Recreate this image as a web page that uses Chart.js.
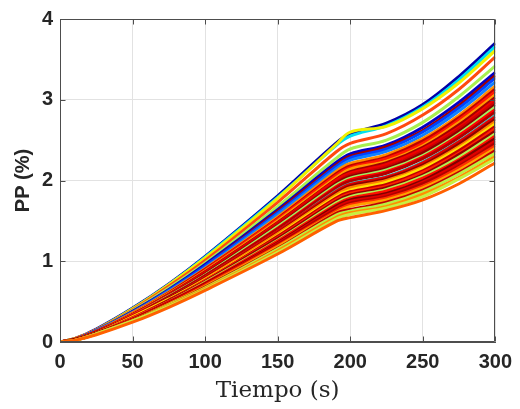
<!DOCTYPE html>
<html><head><meta charset="utf-8">
<script src="https://cdn.jsdelivr.net/npm/chart.js@4.4.0/dist/chart.umd.min.js"></script>
<style>html,body{margin:0;padding:0;background:#fff;}</style>
</head><body>
<canvas id="c" width="520" height="409"></canvas>
<script>
// Time samples (s)
const times = [0, 10, 25, 50, 75, 100, 150, 190, 200, 225, 250, 275, 300];
const xTicks = [0, 50, 100, 150, 200, 250, 300];
const yTicks = [0, 1, 2, 3, 4];

// PP (%) curves (top to bottom at t = 300 s)
const run01 = [0, 0.04, 0.16, 0.42, 0.72, 1.06, 1.81, 2.46, 2.58, 2.71, 2.94, 3.29, 3.70];
const run02 = [0, 0.04, 0.15, 0.41, 0.71, 1.05, 1.79, 2.43, 2.55, 2.68, 2.91, 3.25, 3.66];
const run03 = [0, 0.04, 0.15, 0.41, 0.71, 1.04, 1.78, 2.44, 2.60, 2.67, 2.89, 3.21, 3.61];
const run04 = [0, 0.04, 0.15, 0.40, 0.69, 1.01, 1.73, 2.35, 2.46, 2.58, 2.81, 3.13, 3.53];
const run05 = [0, 0.03, 0.14, 0.39, 0.67, 0.98, 1.68, 2.27, 2.39, 2.50, 2.72, 3.04, 3.42];
const run06 = [0, 0.03, 0.14, 0.38, 0.65, 0.96, 1.64, 2.22, 2.33, 2.44, 2.66, 2.97, 3.34];
const run07 = [0, 0.03, 0.14, 0.37, 0.64, 0.94, 1.62, 2.19, 2.30, 2.42, 2.62, 2.93, 3.30];
const run08 = [0, 0.03, 0.14, 0.37, 0.64, 0.94, 1.60, 2.17, 2.28, 2.39, 2.60, 2.90, 3.27];
const run09 = [0, 0.03, 0.14, 0.36, 0.63, 0.92, 1.58, 2.14, 2.25, 2.36, 2.56, 2.86, 3.22];
const run10 = [0, 0.03, 0.13, 0.36, 0.62, 0.91, 1.55, 2.11, 2.21, 2.32, 2.52, 2.81, 3.17];
const run11 = [0, 0.03, 0.13, 0.35, 0.61, 0.90, 1.53, 2.08, 2.18, 2.29, 2.49, 2.78, 3.13];
const run12 = [0, 0.03, 0.13, 0.35, 0.60, 0.89, 1.52, 2.06, 2.16, 2.27, 2.46, 2.75, 3.10];
const run13 = [0, 0.03, 0.13, 0.35, 0.60, 0.88, 1.50, 2.03, 2.14, 2.24, 2.43, 2.72, 3.06];
const run14 = [0, 0.03, 0.13, 0.34, 0.59, 0.87, 1.48, 2.01, 2.11, 2.22, 2.41, 2.69, 3.03];
const run15 = [0, 0.03, 0.13, 0.34, 0.585, 0.86, 1.47, 2.00, 2.09, 2.20, 2.39, 2.66, 3.00];
const run16 = [0, 0.03, 0.12, 0.34, 0.58, 0.85, 1.46, 1.97, 2.07, 2.17, 2.36, 2.64, 2.97];
const run17 = [0, 0.03, 0.12, 0.33, 0.57, 0.84, 1.44, 1.96, 2.05, 2.15, 2.34, 2.61, 2.94];
const run18 = [0, 0.03, 0.12, 0.33, 0.57, 0.83, 1.43, 1.94, 2.03, 2.13, 2.31, 2.58, 2.91];
const run19 = [0, 0.03, 0.12, 0.33, 0.56, 0.82, 1.41, 1.92, 2.01, 2.11, 2.29, 2.56, 2.88];
const run20 = [0, 0.03, 0.12, 0.32, 0.56, 0.82, 1.40, 1.90, 1.99, 2.09, 2.27, 2.53, 2.85];
const run21 = [0, 0.03, 0.12, 0.32, 0.55, 0.81, 1.38, 1.88, 1.97, 2.06, 2.24, 2.50, 2.82];
const run22 = [0, 0.03, 0.12, 0.32, 0.54, 0.80, 1.37, 1.86, 1.95, 2.04, 2.22, 2.48, 2.79];
const run23 = [0, 0.03, 0.12, 0.31, 0.54, 0.79, 1.35, 1.84, 1.93, 2.02, 2.19, 2.45, 2.76];
const run24 = [0, 0.03, 0.11, 0.31, 0.53, 0.78, 1.34, 1.82, 1.91, 2.00, 2.17, 2.42, 2.73];
const run25 = [0, 0.03, 0.11, 0.31, 0.53, 0.77, 1.32, 1.80, 1.88, 1.98, 2.15, 2.40, 2.70];
const run26 = [0, 0.03, 0.11, 0.30, 0.52, 0.76, 1.31, 1.78, 1.86, 1.95, 2.12, 2.37, 2.67];
const run27 = [0, 0.03, 0.11, 0.30, 0.51, 0.76, 1.29, 1.76, 1.84, 1.93, 2.10, 2.34, 2.64];
const run28 = [0, 0.03, 0.11, 0.29, 0.51, 0.75, 1.28, 1.74, 1.82, 1.91, 2.07, 2.32, 2.61];
const run29 = [0, 0.03, 0.11, 0.29, 0.50, 0.74, 1.26, 1.72, 1.80, 1.89, 2.05, 2.29, 2.58];
const run30 = [0, 0.03, 0.11, 0.29, 0.50, 0.73, 1.25, 1.70, 1.78, 1.87, 2.03, 2.26, 2.55];
const run31 = [0, 0.03, 0.11, 0.28, 0.49, 0.72, 1.23, 1.68, 1.76, 1.84, 2.00, 2.24, 2.52];
const run32 = [0, 0.02, 0.10, 0.28, 0.49, 0.71, 1.22, 1.66, 1.74, 1.82, 1.98, 2.21, 2.49];
const run33 = [0, 0.02, 0.10, 0.28, 0.48, 0.70, 1.21, 1.64, 1.72, 1.80, 1.96, 2.18, 2.46];
const run34 = [0, 0.02, 0.10, 0.27, 0.47, 0.70, 1.19, 1.62, 1.70, 1.78, 1.93, 2.16, 2.43];
const run35 = [0, 0.02, 0.10, 0.27, 0.47, 0.69, 1.18, 1.60, 1.68, 1.76, 1.91, 2.13, 2.40];
const run36 = [0, 0.02, 0.10, 0.27, 0.46, 0.68, 1.16, 1.59, 1.64, 1.73, 1.88, 2.10, 2.37];
const run37 = [0, 0.02, 0.10, 0.26, 0.46, 0.67, 1.15, 1.57, 1.62, 1.71, 1.86, 2.08, 2.34];
const run38 = [0, 0.02, 0.10, 0.26, 0.45, 0.66, 1.13, 1.54, 1.60, 1.68, 1.83, 2.04, 2.30];
const run39 = [0, 0.02, 0.10, 0.26, 0.44, 0.65, 1.11, 1.52, 1.58, 1.66, 1.80, 2.02, 2.27];
const run40 = [0, 0.02, 0.09, 0.245, 0.43, 0.64, 1.09, 1.49, 1.54, 1.63, 1.76, 1.96, 2.22];

const runs = [run01, run02, run03, run04, run05, run06, run07, run08, run09, run10,
              run11, run12, run13, run14, run15, run16, run17, run18, run19, run20,
              run21, run22, run23, run24, run25, run26, run27, run28, run29, run30,
              run31, run32, run33, run34, run35, run36, run37, run38, run39, run40];

const runColors = [
  '#0000a8', '#00e0f0', '#f0f000', '#ff4a10', '#a8f050', '#0000c8', '#a00000', '#0040ff', '#1080ff', '#ff8c00',
  '#c00000', '#ff1a00', '#ff9a00', '#a00000', '#f00000', '#d00000', '#8c0000', '#a0f060', '#ff0000', '#b00000',
  '#40b0b0', '#e00000', '#900000', '#ff8000', '#ffe000', '#c00000', '#ff2000', '#900000', '#b0f050', '#ff1000',
  '#800000', '#e00000', '#b00000', '#ff3000', '#ffa000', '#c00000', '#b8f040', '#ff9000', '#c8f040', '#ff6000'
];
const thinColors = ['#40b0b0'];

// reversed so that the upper runs are drawn last in z-order like the original
const datasets = runs.map((r, i) => ({
  data: times.map((t, j) => ({x: t, y: r[j]})),
  borderColor: runColors[i],
  borderWidth: thinColors.includes(runColors[i]) ? 1.5 : 3,
  pointRadius: 0,
  fill: false,
  tension: 0.35
})).reverse();

const boxPlugin = {
  id: 'box',
  afterDraw(chart) {
    const {ctx, chartArea: a, scales: {x, y}} = chart;
    ctx.save();
    ctx.strokeStyle = '#4d4d4d';
    ctx.lineWidth = 1;
    const L = Math.round(a.left) + 0.5, R = Math.round(a.right) - 0.5;
    const T = Math.round(a.top) + 0.5, B = Math.round(a.bottom) - 0.5;
    ctx.beginPath();
    ctx.rect(L, T, R - L, B - T);
    xTicks.forEach(v => {
      const px = Math.round(x.getPixelForValue(v)) + 0.5;
      ctx.moveTo(px, B); ctx.lineTo(px, B - 5);
      ctx.moveTo(px, T); ctx.lineTo(px, T + 5);
    });
    yTicks.forEach(v => {
      const py = Math.round(y.getPixelForValue(v)) + 0.5;
      ctx.moveTo(L, py); ctx.lineTo(L + 5, py);
      ctx.moveTo(R, py); ctx.lineTo(R - 5, py);
    });
    ctx.stroke();
    ctx.restore();
  }
};

const tickFont = {family: 'Liberation Sans', weight: 'bold', size: 20};

new Chart(document.getElementById('c'), {
  type: 'line',
  data: {datasets},
  options: {
    responsive: false,
    animation: false,
    devicePixelRatio: 1,
    layout: {padding: {top: 16, right: 23, left: 0, bottom: 0}},
    plugins: {legend: {display: false}, tooltip: {enabled: false}},
    scales: {
      x: {
        type: 'linear', min: 0, max: 300,
        afterBuildTicks(s) { s.ticks = xTicks.map(v => ({value: v})); },
        ticks: {font: tickFont, color: '#262626', padding: 8, maxRotation: 0},
        grid: {color: '#e2e2e2', drawTicks: false},
        border: {color: '#4d4d4d', width: 1},
        title: {display: true, text: 'Tiempo (s)', color: '#262626',
                font: {family: 'DejaVu Serif', size: 23}, padding: {top: 0, bottom: 4}},
        afterFit(s) { s.height = 67; }
      },
      y: {
        type: 'linear', min: 0, max: 4,
        afterBuildTicks(s) { s.ticks = yTicks.map(v => ({value: v})); },
        ticks: {font: tickFont, color: '#262626', padding: 7},
        grid: {color: '#e2e2e2', drawTicks: false},
        border: {color: '#4d4d4d', width: 1},
        title: {display: true, text: 'PP (%)', color: '#262626',
                font: {family: 'Liberation Sans', weight: 'bold', size: 20}, padding: {top: 11, bottom: 0}},
        afterFit(s) { s.width = 60; }
      }
    }
  },
  plugins: [boxPlugin]
});
</script>
</body></html>
